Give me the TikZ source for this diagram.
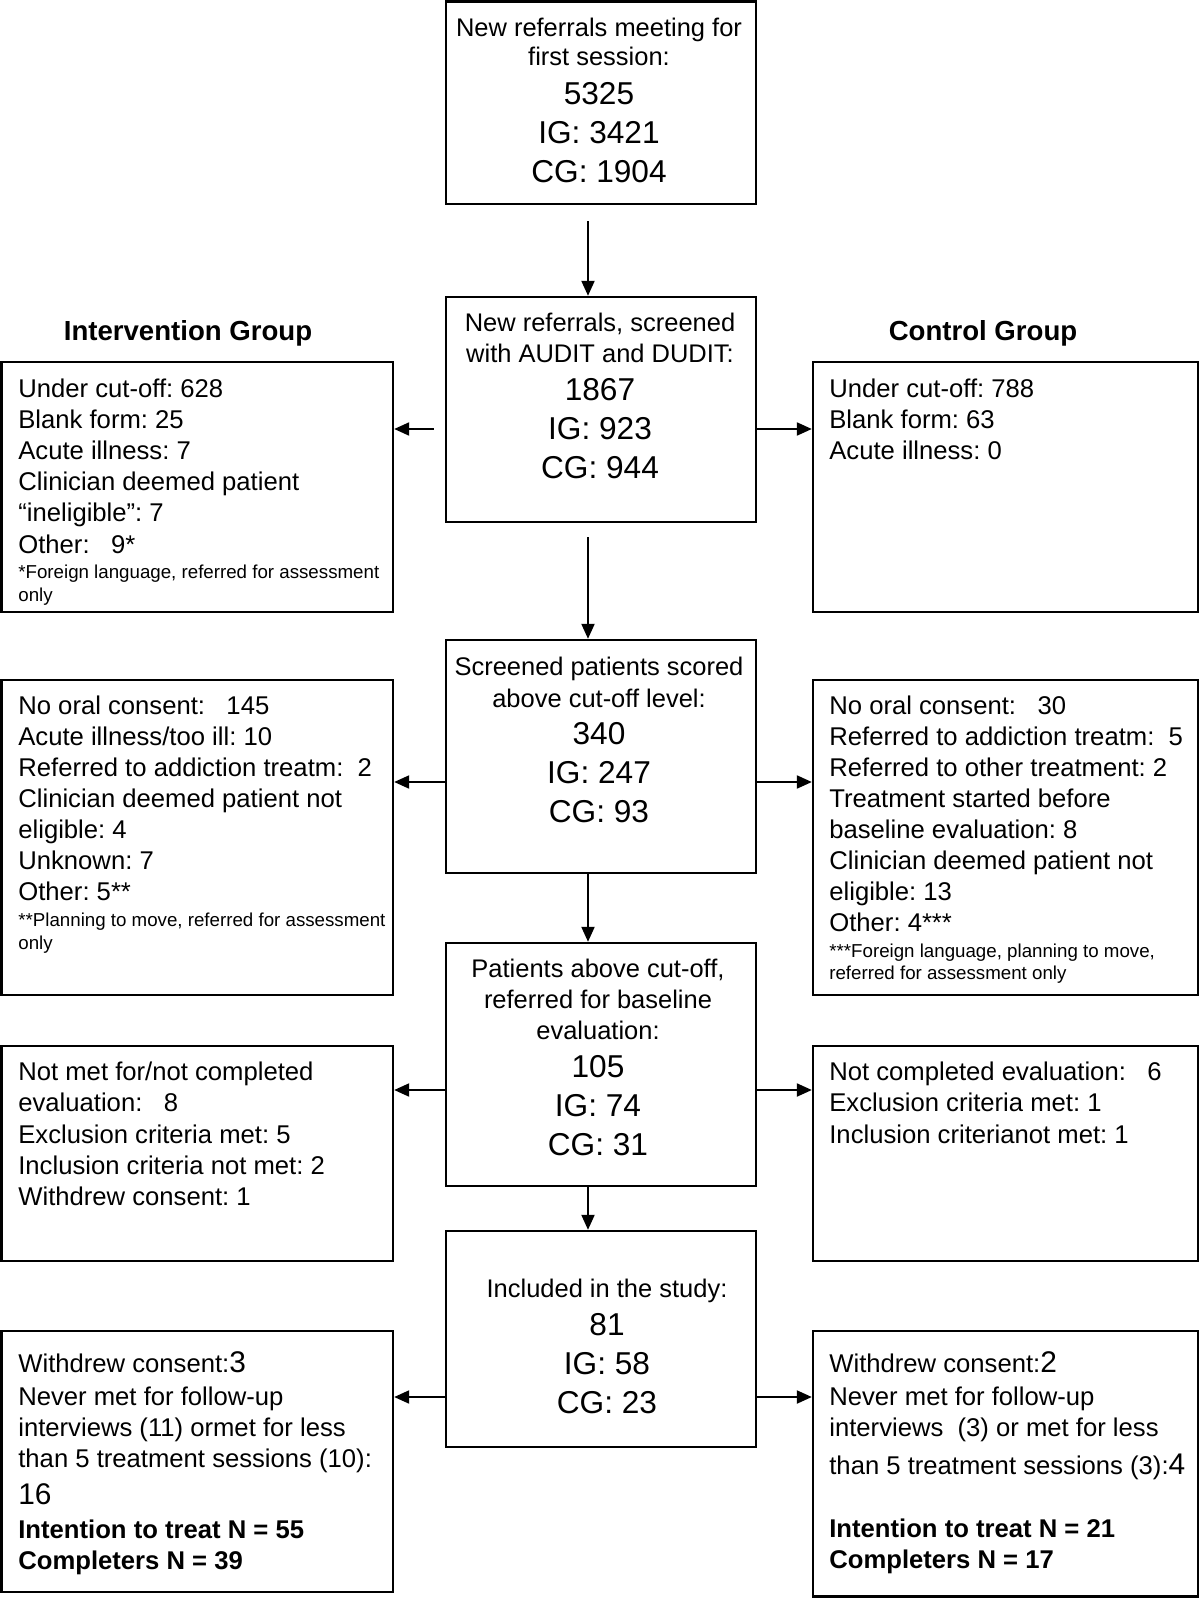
\documentclass[tikz,border=0pt]{standalone}
\usepackage{fontspec}
\setmainfont{Liberation Sans}
\usepackage{tikz}
\usetikzlibrary{arrows.meta}
\frenchspacing

\newcommand\txtfont{\fontsize{14.6}{17.7}\selectfont}
\newcommand\ctrfont{\fontsize{14.5}{17.5}\selectfont}
\newcommand\numfont{\fontsize{18}{22.2}\selectfont}
\newcommand\fnfont{\fontsize{10.65}{13}\selectfont}
\newcommand\bignum[1]{{\fontsize{17}{17.7}\selectfont #1}}

\tikzset{
  box/.style={draw, line width=1.4pt, inner sep=0pt},
  arr/.style={-{Triangle[length=8.5pt,width=7.4pt]}, line width=1.1pt},
  ctext/.style={anchor=base, inner sep=0pt, text width=7cm, align=flush center, font=\ctrfont},
  stext/.style={anchor=base west, inner sep=0pt, text width=8cm, align=flush left, font=\txtfont},
  grouptitle/.style={anchor=base, inner sep=0pt, font=\fontsize{15.7}{18}\selectfont\bfseries}
}

\begin{document}
\begin{tikzpicture}[x=0.02cm, y=-0.02cm]
\useasboundingbox (0,0) rectangle (1200,1598);

\node [box, minimum width=6.2cm, minimum height=4.05cm] (first) at (601,102.75) {};
\node [ctext] (firstt) at (599,36.3) {New referrals meeting for\\[-0.7pt] first session:\\[4.5pt] {\numfont 5325}\\[4.7pt] {\numfont IG: 3421}\\[4.7pt] {\numfont CG: 1904}};

\node [box, minimum width=6.2cm, minimum height=4.5cm] (screen) at (601,409.5) {};
\node [ctext] (screent) at (600,332) {New referrals, screened\\ with AUDIT and DUDIT:\\[4pt] {\numfont 1867}\\[4.7pt] {\numfont IG: 923}\\[4.7pt] {\numfont CG: 944}};

\node [box, minimum width=6.2cm, minimum height=4.66cm] (above) at (601,756.5) {};
\node [ctext] (abovet) at (599,675.5) {Screened patients scored\\[0.6pt] above cut-off level:\\[3.5pt] {\numfont 340}\\[4.7pt] {\numfont IG: 247}\\[4.7pt] {\numfont CG: 93}};

\node [box, minimum width=6.2cm, minimum height=4.86cm] (basel) at (601,1064.5) {};
\node [ctext] (baselt) at (598,977.6) {Patients above cut-off,\\ referred for baseline\\ evaluation:\\[4.5pt] {\numfont 105}\\[4.7pt] {\numfont IG: 74}\\[4.7pt] {\numfont CG: 31}};

\node [box, minimum width=6.2cm, minimum height=4.32cm] (incl) at (601,1339) {};
\node [ctext] (inclt) at (607,1297.3) {Included in the study:\\[4.2pt] {\numfont 81}\\[4.7pt] {\numfont IG: 58}\\[4.7pt] {\numfont CG: 23}};

\node [grouptitle] (igtitle) at (188,340) {Intervention Group};
\node [grouptitle] (cgtitle) at (983,340) {Control Group};

% intervention group
\node [box, minimum width=7.83cm, minimum height=5cm] (ig1) at (197.25,487) {};
\node [stext] (ig1t) at (18,397.6) {Under cut-off: 628\\ Blank form: 25\\ Acute illness: 7\\ Clinician deemed patient\\ “ineligible”: 7\\ Other:\ \ \ 9*\\[-3.3pt] {\fnfont *Foreign language, referred for assessment}\\[-4.7pt] {\fnfont only}};

\node [box, minimum width=7.83cm, minimum height=6.3cm] (ig2) at (197.25,837.5) {};
\node [stext] (ig2t) at (18,714.3) {No oral consent:\ \ \ 145\\ Acute illness/too ill: 10\\ Referred to addiction treatm:\ \ 2\\ Clinician deemed patient not\\ eligible: 4\\ Unknown: 7\\ Other: 5**\\[-3pt] {\fnfont **Planning to move, referred for assessment}\\[-4.7pt] {\fnfont only}};

\node [box, minimum width=7.83cm, minimum height=4.3cm] (ig3) at (197.25,1153.5) {};
\node [stext] (ig3t) at (18,1080.8) {Not met for/not completed\\ evaluation:\ \ \ 8\\ Exclusion criteria met: 5\\ Inclusion criteria not met: 2\\ Withdrew consent: 1};

\node [box, minimum width=7.83cm, minimum height=5.22cm] (ig4) at (197.25,1461.5) {};
\node [stext] (ig4t) at (18,1372.3) {Withdrew consent:\bignum{3}\\[1.2pt] Never met for follow-up\\ interviews (11) ormet for less\\ than 5 treatment sessions (10):\\[3.1pt] \bignum{16}\\[1.6pt] \textbf{Intention to treat N = 55}\\ \textbf{Completers N = 39}};

% control group
\node [box, minimum width=7.7cm, minimum height=5cm] (cg1) at (1005.5,487) {};
\node [stext] (cg1t) at (829,397.6) {Under cut-off: 788\\ Blank form: 63\\ Acute illness: 0};

\node [box, minimum width=7.7cm, minimum height=6.3cm] (cg2) at (1005.5,837.5) {};
\node [stext] (cg2t) at (829,714.3) {No oral consent:\ \ \ 30\\ Referred to addiction treatm:\ \ 5\\ Referred to other treatment: 2\\ Treatment started before\\ baseline evaluation: 8\\ Clinician deemed patient not\\ eligible: 13\\ Other: 4***\\[-3pt] {\fnfont ***Foreign language, planning to move,}\\[-5.1pt] {\fnfont referred for assessment only}};

\node [box, minimum width=7.7cm, minimum height=4.3cm] (cg3) at (1005.5,1153.5) {};
\node [stext] (cg3t) at (829,1080.8) {Not completed evaluation:\ \ \ 6\\ Exclusion criteria met: 1\\ Inclusion criterianot met: 1};

\node [box, minimum width=7.7cm, minimum height=5.31cm] (cg4) at (1005.5,1463.75) {};
\node [stext] (cg4t) at (829,1372.3) {Withdrew consent:\bignum{2}\\[1.2pt] Never met for follow-up\\ interviews\ \ (3) or met for less\\[3.7pt] than 5 treatment sessions (3):\bignum{4}\\[18.2pt] \textbf{Intention to treat N = 21}\\ \textbf{Completers N = 17}};

\coordinate (spine) at (588,0);
\coordinate (r1) at (0,429); \coordinate (r2) at (0,782); \coordinate (r3) at (0,1090); \coordinate (r4) at (0,1397);

\draw [arr, shorten <=0.32cm] (first.south -| spine) -- (screen.north -| spine);
\draw [arr, shorten <=0.28cm] (screen.south -| spine) -- (above.north -| spine);
\draw [arr] (above.south -| spine) -- (basel.north -| spine);
\draw [arr] (basel.south -| spine) -- (incl.north -| spine);

\draw [arr, shorten <=0.22cm] (screen.west |- r1) -- (ig1.east |- r1); \draw [arr] (screen.east |- r1) -- (cg1.west |- r1);
\draw [arr] (above.west |- r2) -- (ig2.east |- r2); \draw [arr] (above.east |- r2) -- (cg2.west |- r2);
\draw [arr] (basel.west |- r3) -- (ig3.east |- r3); \draw [arr] (basel.east |- r3) -- (cg3.west |- r3);
\draw [arr] (incl.west |- r4) -- (ig4.east |- r4); \draw [arr] (incl.east |- r4) -- (cg4.west |- r4);
\end{tikzpicture}
\end{document}
